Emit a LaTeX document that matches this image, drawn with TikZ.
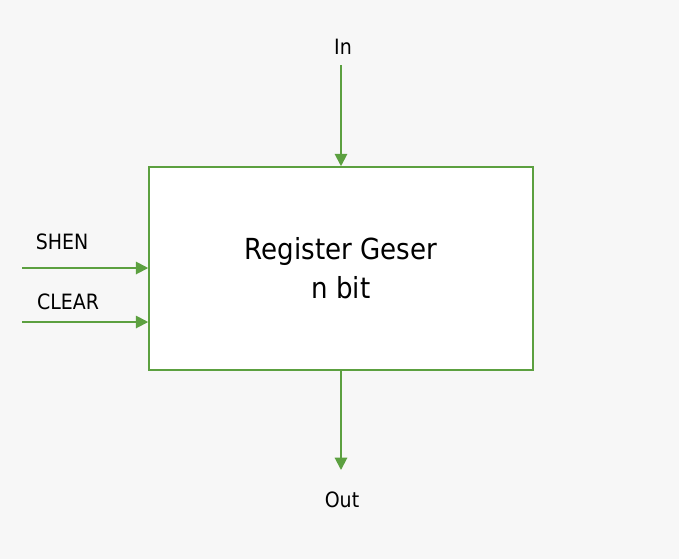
\documentclass[tikz,border=0pt]{standalone}
\usepackage{fontspec}
\setmainfont{DejaVu Sans Condensed}
\usetikzlibrary{arrows.meta, positioning}
\definecolor{wiregreen}{RGB}{92,160,64}

\begin{document}
\begin{tikzpicture}[x=0.02cm, y=-0.02cm,
    block node/.style={draw=wiregreen, fill=white, line width=0.9pt, minimum width=7.68cm, minimum height=4.06cm, inner sep=0pt, align=center, font=\fontsize{16.5}{21}\selectfont},
    pin label/.style={inner sep=0pt, font=\fontsize{12}{14}\selectfont},
    wire/.style={draw=wiregreen, line width=1.1pt, -{Triangle[length=7pt, width=7pt]}}]
    \fill[black!3] (0,0) rectangle (679,559);
    \useasboundingbox (0,0) rectangle (679,559);

    \node[block node] (reg) at (341,268.5) {Register Geser\\[1pt] n bit};

    \node[pin label] (inlbl) at (343,47) {In};
    \node[pin label] (outlbl) at (342,500) {Out};
    \node[pin label] (shenlbl) at (62,242) {SHEN};
    \node[pin label] (clearlbl) at (68,302) {CLEAR};

    \coordinate (intop) at (341,65);
    \coordinate (outbot) at (341,470);
    \coordinate (shenin) at (22,268);
    \coordinate (clearin) at (22,322);

    \draw[wire] (intop) -- (reg.north);
    \draw[wire] (reg.south) -- (outbot);
    \draw[wire] (shenin) -- (reg.west |- shenin);
    \draw[wire] (clearin) -- (reg.west |- clearin);
\end{tikzpicture}
\end{document}
